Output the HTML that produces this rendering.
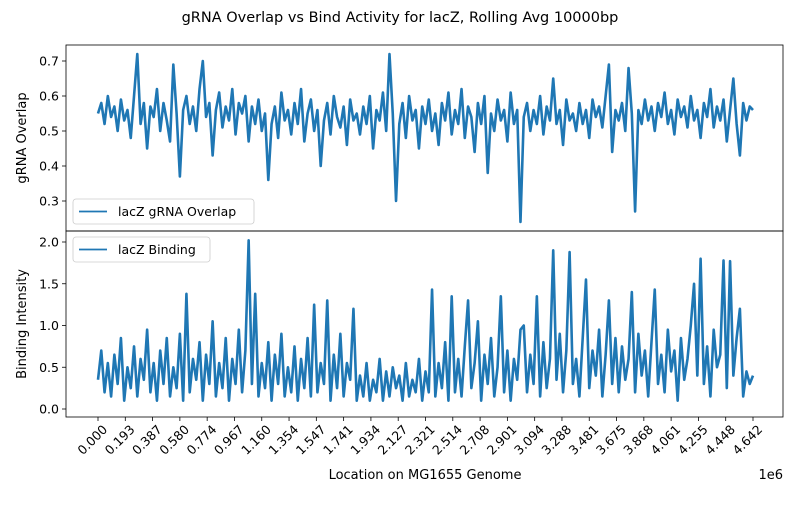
<!DOCTYPE html>
<html><head><meta charset="utf-8"><style>
body{margin:0;background:#fff}
svg{font-family:"DejaVu Sans","Liberation Sans",sans-serif}
</style></head><body>
<svg id="chart" width="800" height="500" viewBox="0 0 800 500" xmlns="http://www.w3.org/2000/svg">
<rect width="800" height="500" fill="#fff"/>
<text x="400" y="22" font-size="14.5" text-anchor="middle">gRNA Overlap vs Bind Activity for lacZ, Rolling Avg 10000bp</text>
<g id="top"></g>
<g id="bot"></g>
<text x="425" y="479" font-size="13" text-anchor="middle">Location on MG1655 Genome</text>
<text x="783" y="479" font-size="13" text-anchor="end">1e6</text>
<text transform="translate(26,138) rotate(-90)" font-size="13" text-anchor="middle">gRNA Overlap</text>
<text transform="translate(26,324) rotate(-90)" font-size="13" text-anchor="middle">Binding Intensity</text>
</svg>
<script>
const xMax = 4.642e6;
const overlapValues = [.55,.58,.52,.60,.54,.57,.50,.59,.53,.56,
.48,.60,.72,.52,.58,.45,.57,.54,.62,.50,
.58,.53,.47,.69,.55,.37,.56,.60,.52,.57,
.50,.62,.70,.54,.58,.43,.56,.61,.51,.57,
.53,.62,.49,.58,.55,.60,.47,.57,.52,.59,
.50,.55,.36,.52,.57,.48,.61,.53,.56,.49,
.58,.52,.62,.47,.55,.59,.50,.56,.40,.53,
.58,.49,.60,.54,.51,.57,.46,.59,.53,.55,
.49,.57,.52,.60,.45,.56,.53,.61,.50,.72,
.55,.30,.52,.58,.48,.60,.53,.56,.45,.57,
.52,.59,.50,.55,.46,.58,.53,.61,.49,.56,
.52,.62,.48,.57,.54,.44,.58,.52,.60,.38,
.55,.50,.59,.53,.56,.47,.61,.52,.56,.24,
.54,.58,.50,.56,.52,.60,.49,.57,.53,.65,
.52,.56,.46,.59,.53,.55,.50,.58,.52,.56,
.48,.59,.54,.57,.51,.60,.69,.44,.56,.53,
.58,.50,.68,.55,.27,.56,.52,.59,.53,.57,
.50,.58,.54,.61,.52,.56,.49,.59,.54,.57,
.51,.60,.53,.56,.48,.58,.54,.62,.51,.57,
.53,.59,.47,.56,.65,.52,.43,.58,.53,.57,.56];
const bindingValues = [.35,.70,.20,.55,.15,.65,.30,.85,.10,.50,
.25,.75,.15,.60,.35,.95,.20,.55,.10,.70,
.30,.85,.15,.50,.25,.90,.10,1.38,.20,.60,
.35,.80,.10,.65,.30,1.05,.15,.55,.25,.85,
.10,.60,.30,.95,.20,.70,2.02,.30,1.38,.15,
.55,.25,.80,.10,.65,.30,.90,.15,.50,.20,
.75,.10,.60,.25,.85,.15,1.25,.20,.55,.30,
1.30,.10,.65,.25,.90,.15,.55,.35,1.20,.10,
.40,.15,.55,.10,.35,.20,.60,.10,.45,.15,
.50,.25,.40,.10,.55,.15,.35,.20,.60,.10,
.45,.20,1.43,.15,.55,.25,.80,.10,1.35,.20,
.60,.15,.75,1.30,.25,.55,1.05,.10,.65,.30,
.85,.15,.50,1.35,.20,.70,.10,.60,.35,.95,
1.00,.20,.65,.30,1.35,.15,.80,.25,.60,1.90,
.35,.90,.20,.70,1.88,.30,.60,.15,.85,1.55,
.25,.70,.40,.95,.15,.65,1.30,.30,.85,.20,
.75,.35,.60,1.40,.20,.90,.40,.70,.15,.80,
1.43,.30,.65,.20,.95,.45,.70,.10,.85,.35,
.60,1.00,1.50,.40,1.80,.30,.75,.15,.95,.50,
.65,1.78,.25,1.77,.40,.85,1.20,.15,.45,.30,.40];
const xTickLabels = ["0.000","0.193","0.387","0.580","0.774","0.967","1.160","1.354","1.547","1.741","1.934","2.127","2.321","2.514","2.708","2.901","3.094","3.288","3.481","3.675","3.868","4.061","4.255","4.448","4.642"];
const topYTicks = [0.3,0.4,0.5,0.6,0.7];
const botYTicks = [0.0,0.5,1.0,1.5,2.0];

const NS="http://www.w3.org/2000/svg";
const L=66,R=783;
const xPx=v=>98+v/xMax*655;
const yTop=v=>131-(v-0.5)*350;
const yBot=v=>409-v*83.5;
function mk(tag,attrs,parent){const e=document.createElementNS(NS,tag);for(const k in attrs)e.setAttribute(k,attrs[k]);parent.appendChild(e);return e;}
function panel(g,y0,y1,vals,yf,ticks,fmt,label,legY,legW,name){
  const n=vals.length;
  let d="";
  vals.forEach((v,i)=>{d+=(i?"L":"M")+xPx(i/(n-1)*xMax).toFixed(2)+","+yf(v).toFixed(2);});
  const p=mk("path",{d:d,fill:"none",stroke:"#1f77b4","stroke-width":2.6,"stroke-linejoin":"round"},g);
  
  
  ticks.forEach(t=>{
    const y=yf(t);
    const tl=mk("line",{x1:L-4,x2:L,y1:y,y2:y,stroke:"#000","stroke-width":0.8},g);
    
    
    const tx=mk("text",{x:L-7,y:y+4.5,"font-size":12.5,"text-anchor":"end"},g);
    
    
    tx.textContent=fmt(t);
  });
  const fr=mk("rect",{x:L,y:y0,width:R-L,height:y1-y0,fill:"none",stroke:"#000","stroke-width":0.8},g);
  
  
  const lg=mk("g",{},g);
  
  
  mk("rect",{x:73,y:legY,width:legW,height:25,rx:3,fill:"#fff","fill-opacity":0.8,stroke:"#ccc","stroke-width":0.8},lg);
  mk("line",{x1:79,x2:107,y1:legY+12.5,y2:legY+12.5,stroke:"#1f77b4","stroke-width":1.8},lg);
  const lt=mk("text",{x:118,y:legY+17,"font-size":12.5},lg);
  
  
  lt.textContent=label;
}
panel(document.getElementById("top"),45,231,overlapValues,yTop,topYTicks,t=>t.toFixed(1),"lacZ gRNA Overlap",199,181,"overlap");
panel(document.getElementById("bot"),231,417,bindingValues,yBot,botYTicks,t=>t.toFixed(1),"lacZ Binding",237,137,"binding");
const bg=document.getElementById("bot");
xTickLabels.forEach((lab,i)=>{
  const x=xPx(i/(xTickLabels.length-1)*xMax);
  const tl=mk("line",{x1:x,x2:x,y1:417,y2:421,stroke:"#000","stroke-width":0.8},bg);
  
  
  const t=mk("text",{transform:`translate(${x+4},${424}) rotate(-45)`,"font-size":12.5,"text-anchor":"end",dy:"0.7em"},bg);
  
  
  t.textContent=lab;
});
</script>
</body></html>
